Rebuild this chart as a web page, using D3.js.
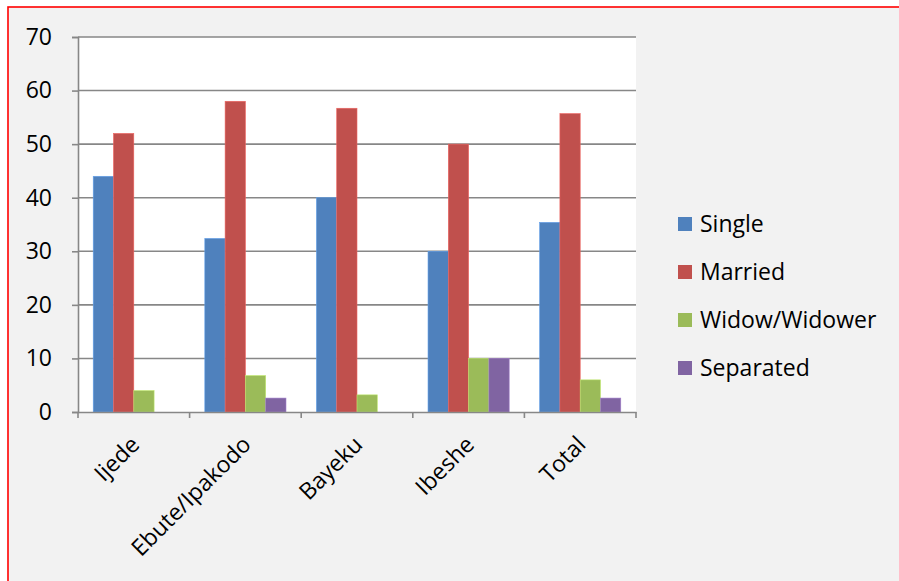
<!DOCTYPE html>
<html>
<head>
<meta charset="utf-8">
<script src="https://cdn.jsdelivr.net/npm/d3@7"></script>
<style>
  html, body { margin: 0; padding: 0; background: #ffffff; }
  svg { display: block; }
  text { font-family: "Open Sans", "Noto Sans", sans-serif; fill: #000; }
</style>
</head>
<body>
<svg id="chart" width="899" height="581"></svg>
<script>
// Marital status by community (%)
const categories = ["Ijede", "Ebute/Ipakodo", "Bayeku", "Ibeshe", "Total"];
const seriesNames = ["Single", "Married", "Widow/Widower", "Separated"];
const single    = [44, 32.4, 40, 30, 35.4];
const married   = [52, 58, 56.7, 50, 55.7];
const widow     = [4, 6.8, 3.2, 10, 6];
const separated = [0, 2.6, 0, 10, 2.6];
const yTicks = [0, 10, 20, 30, 40, 50, 60, 70];
const colors = ["#4f81bd", "#c0504d", "#9bbb59", "#8064a2"];

const seriesValues = [single, married, widow, separated];
const FONT_SIZE = 23;

const svg = d3.select("#chart");
const W = 899, H = 581;

// frame (right and bottom edges run past the canvas)
svg.append("rect").attr("x", 0).attr("y", 0).attr("width", W).attr("height", H).attr("fill", "#ffffff");
svg.append("rect")
  .attr("x", 8).attr("y", 7).attr("width", 900).attr("height", 590)
  .attr("fill", "#f2f2f2").attr("stroke", "#ff0000").attr("stroke-width", 1.6);

const plot = { left: 78, right: 636, top: 37, bottom: 412 };

const x = d3.scaleBand().domain(categories).range([plot.left, plot.right]).paddingInner(0).paddingOuter(0);
// gap of 150% of bar width between groups → 4 bars occupy 4/5.5 of each band
const xInner = d3.scaleBand().domain(seriesNames).range([0, x.bandwidth()])
  .paddingInner(0).paddingOuter(0.75);
const y = d3.scaleLinear().domain([0, 70]).range([plot.bottom, plot.top]);

// plot background
svg.append("rect")
  .attr("x", plot.left).attr("y", plot.top)
  .attr("width", plot.right - plot.left).attr("height", plot.bottom - plot.top)
  .attr("fill", "#ffffff");

// gridlines
svg.append("g").selectAll("line").data(yTicks.filter(d => d > 0)).join("line")
  .attr("x1", plot.left).attr("x2", plot.right)
  .attr("y1", d => y(d)).attr("y2", d => y(d))
  .attr("stroke", "#878787").attr("stroke-width", 1.6);

// bars
const groups = svg.append("g").selectAll("g").data(categories).join("g")
  .attr("transform", d => `translate(${x(d)},0)`);
groups.selectAll("rect")
  .data((c, i) => seriesNames.map((s, j) => ({ s, j, v: seriesValues[j][i] })))
  .join("rect")
  .filter(d => d.v > 0)
  .attr("x", d => xInner(d.s))
  .attr("width", xInner.bandwidth())
  .attr("y", d => y(d.v))
  .attr("height", d => y(0) - y(d.v))
  .attr("fill", d => colors[d.j])
  .attr("stroke", d => d3.color(colors[d.j]).brighter(0.6))
  .attr("stroke-width", 0.6);

// y axis
const yAxis = d3.axisLeft(y).tickValues(yTicks).tickSize(6).tickPadding(20);
const gy = svg.append("g").attr("transform", `translate(${plot.left},0)`).call(yAxis);
gy.select(".domain").attr("stroke", "#878787").attr("stroke-width", 1.6);
gy.selectAll(".tick line").attr("stroke", "#878787").attr("stroke-width", 1.6);
gy.selectAll(".tick text").attr("font-size", FONT_SIZE).attr("font-family", "Open Sans").attr("fill", "#000");

// x axis
const xAxis = d3.axisBottom(x).tickSize(0).tickFormat("");
const gx = svg.append("g").attr("transform", `translate(0,${plot.bottom})`).call(xAxis);
gx.select(".domain").attr("stroke", "#878787").attr("stroke-width", 1.6);
// boundary ticks between categories
const tickPos = categories.map(c => x(c)).concat([x.range()[1]]);
gx.selectAll(".btick").data(tickPos).join("line")
  .attr("class", "btick")
  .attr("x1", d => d).attr("x2", d => d)
  .attr("y1", 0).attr("y2", 6)
  .attr("stroke", "#878787").attr("stroke-width", 1.6);

// rotated category labels
svg.append("g").selectAll("text").data(categories).join("text")
  .attr("transform", d => `translate(${x(d) + x.bandwidth() / 2 + 7},${plot.bottom + 34}) rotate(-45)`)
  .attr("text-anchor", "end")
  .attr("font-size", FONT_SIZE)
  .text(d => d);

// legend
const legend = svg.append("g").attr("transform", "translate(678,224)");
const items = legend.selectAll("g").data(seriesNames).join("g")
  .attr("transform", (d, i) => `translate(0,${i * 48})`);
items.append("rect")
  .attr("x", 0).attr("y", -7).attr("width", 14).attr("height", 14)
  .attr("fill", (d, i) => colors[i]);
items.append("text")
  .attr("x", 22).attr("y", 0).attr("dy", "0.35em")
  .attr("font-size", FONT_SIZE)
  .text(d => d);
</script>
</body>
</html>
